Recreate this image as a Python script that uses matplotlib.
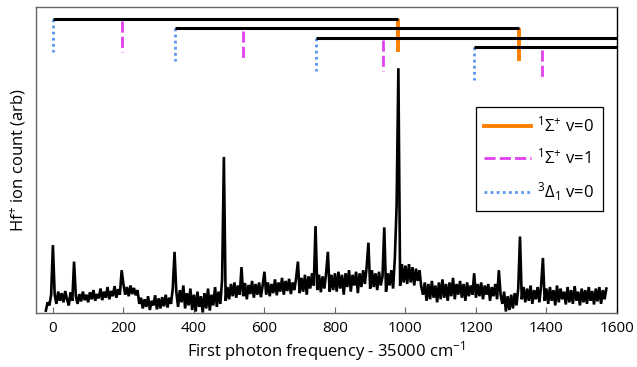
import numpy as np
import matplotlib
matplotlib.use("Agg")
import matplotlib.pyplot as plt
from matplotlib.lines import Line2D

plt.rcParams['font.family'] = ['Open Sans', 'DejaVu Sans']
plt.rcParams['mathtext.fontset'] = 'custom'
plt.rcParams['mathtext.rm'] = 'Open Sans'
plt.rcParams['mathtext.it'] = 'Open Sans:italic'
plt.rcParams['mathtext.bf'] = 'Open Sans:bold'

# ---------------- data ----------------
freq_start, freq_step = -20, 5          # cm^-1 offset from 35000
counts = [
    8, 35, 25, 60,
    222, 60, 30, 70, 40, 65, 35, 72, 45, 25, 68, 40, 168, 55, 30, 62, 38, 70, 42, 60,
    35, 68, 45, 75, 40, 62, 48, 80, 42, 70, 50, 85, 45, 72, 55, 88, 50, 78, 60, 140,
    95, 60, 85, 55, 90, 62, 82, 58, 75, 30, 50, 15, 45, 20, 55, 10, 40, 25, 58, 12,
    48, 15, 52, 22, 60, 18, 50, 30, 80, 200, 70, 20, 75, 35, 90, 15, 65, 25, 80, 10,
    60, 5, 70, 20, 55, 2, 65, 15, 80, 8, 60, 25, 85, 20, 70, 30, 110, 510, 40, 85,
    45, 95, 55, 100, 50, 90, 60, 150, 55, 98, 45, 92, 62, 105, 50, 95, 60, 100, 52, 90,
    135, 60, 100, 55, 95, 65, 110, 58, 100, 70, 115, 60, 105, 72, 112, 62, 100, 75, 115, 168,
    65, 115, 70, 125, 60, 120, 80, 130, 90, 284, 75, 125, 68, 120, 80, 130, 200, 70, 125, 75,
    130, 70, 135, 80, 125, 60, 130, 85, 140, 70, 125, 90, 135, 65, 130, 85, 140, 95, 150, 230,
    80, 140, 85, 130, 75, 135, 90, 120, 280, 70, 130, 90, 140, 80, 180, 350, 800, 90, 160, 100,
    155, 95, 160, 100, 150, 90, 145, 105, 140, 85, 60, 100, 40, 95, 45, 105, 50, 90, 35, 100,
    45, 110, 50, 95, 40, 100, 55, 115, 45, 95, 60, 105, 50, 95, 40, 100, 55, 90, 60, 130,
    50, 95, 55, 100, 45, 90, 60, 95, 40, 85, 55, 95, 45, 140, 60, 30, 70, 5, 55, 10,
    60, 15, 65, 25, 80, 250, 45, 85, 35, 80, 40, 90, 30, 75, 45, 85, 35, 90, 180, 40,
    80, 30, 85, 40, 75, 25, 90, 35, 80, 45, 70, 28, 85, 35, 75, 30, 88, 40, 70, 25,
    80, 35, 75, 30, 85, 40, 72, 28, 80, 38, 85, 30, 75, 45, 80,
]
freq = freq_start + freq_step * np.arange(len(counts))

# vibrational progressions (one row per progression)
delta1_v0 = [0, 345, 745, 1195]        # start of each progression (3Delta1 v=0)
sigma_v1 = [195, 538, 937, 1388]       # 1Sigma+ v=1
sigma_v0 = [980, 1323, 1725, 2175]     # 1Sigma+ v=0 (end of each bar)
level_y = [961, 930, 899, 868]
tick_drop = 108

xticks = [0, 200, 400, 600, 800, 1000, 1200, 1400, 1600]
labels = [r'$^{1}\Sigma^{+}$ v=0', r'$^{1}\Sigma^{+}$ v=1', r'$^{3}\Delta_{1}$ v=0']

c_orange = '#FF8000'
c_mag = '#E040F0'
c_blue = '#5A96F0'

# ---------------- figure ----------------
fig = plt.figure(figsize=(6.37, 3.67), dpi=100)
ax = fig.add_axes([0.0565, 0.147, 0.912, 0.834])

for i in range(len(level_y)):
    y = level_y[i]
    ax.plot([delta1_v0[i], sigma_v0[i]], [y, y], color='black', lw=2.2,
            solid_capstyle='butt', zorder=3)
    ax.plot([delta1_v0[i], delta1_v0[i]], [y, y - tick_drop], color=c_blue,
            lw=2, linestyle=(0, (1, 1.2)), zorder=2)
    ax.plot([sigma_v1[i], sigma_v1[i]], [y - 8, y - tick_drop], color=c_mag,
            lw=2, linestyle=(0, (4, 1.5)), zorder=2)
    ax.plot([sigma_v0[i], sigma_v0[i]], [y, y - tick_drop], color=c_orange,
            lw=2.8, solid_capstyle='butt', zorder=2)

ax.plot(freq, counts, color='black', lw=1.9, zorder=4, solid_joinstyle='miter')

ax.set_xlim(-48, 1600)
ax.set_ylim(0, 1000)
ax.set_xticks(xticks)
ax.set_xticklabels([str(t) for t in xticks], fontsize=11)
ax.set_yticks([])
ax.tick_params(axis='x', direction='in', length=4, width=0.8, color='#666666', pad=6)
for s in ['left', 'bottom', 'top']:
    ax.spines[s].set_color('#666666')
ax.spines['right'].set_color('black')
for s in ax.spines.values():
    s.set_linewidth(1.0)

ax.set_xlabel(r'First photon frequency - 35000 cm$^{-1}$', fontsize=12, labelpad=2)
ax.set_ylabel(r'Hf$^{+}$ ion count (arb)', fontsize=12, labelpad=6)

handles = [
    Line2D([], [], color=c_orange, lw=2.8),
    Line2D([], [], color=c_mag, lw=2, linestyle=(0, (4, 1.5))),
    Line2D([], [], color=c_blue, lw=2, linestyle=(0, (1, 1.2))),
]
leg = ax.legend(handles, labels, loc='upper right', bbox_to_anchor=(0.99, 0.70),
                fontsize=12, frameon=True, fancybox=False, edgecolor='black',
                framealpha=1, handlelength=2.8, handletextpad=0.4,
                labelspacing=0.75, borderpad=0.5)
leg.get_frame().set_linewidth(0.9)

fig.savefig('out.png', dpi=100)
